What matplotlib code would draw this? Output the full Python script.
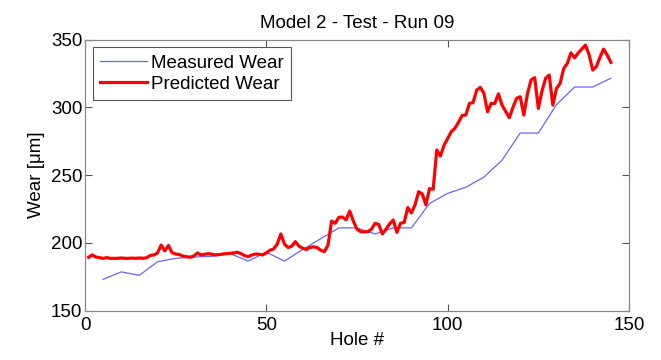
import numpy as np
import matplotlib
matplotlib.use('Agg')
import matplotlib.pyplot as plt

plt.rcParams['font.family'] = ['Liberation Sans', 'DejaVu Sans']

# 實測磨耗（每 5 孔量一次）
hole_meas = [5, 10, 15, 20, 25, 30, 35, 40, 45, 50, 55, 60, 65, 70, 75,
             80, 85, 90, 95, 100, 105, 110, 115, 120, 125, 130, 135, 140, 145]
wear_meas = [173, 178.5, 176, 186, 188.5, 189.5, 190, 192, 186.5, 193, 186.5, 195, 203, 211, 211,
             206.5, 211, 211, 229, 236.5, 241, 248.5, 261, 281, 281, 302, 315, 315, 321.5]

# 預測磨耗（每孔一筆）
hole_pred = list(range(1, 146))
wear_pred = [189.3, 191, 189.5, 189, 188.5, 189, 188.5, 188.5, 188.5, 188.8,
             188.5, 188.5, 188.7, 188.5, 188.8, 188.5, 189, 190.7, 191, 192.5,
             198.3, 194, 198, 192.7, 191.7, 191.3, 190.2, 189.7, 189.3, 190.2,
             192.5, 191, 191.5, 192, 191.5, 191, 191.3, 191.7, 192, 192.2,
             192.5, 193, 192, 190.5, 189.7, 191, 191.7, 191.5, 191, 192.5,
             194.5, 195.4, 199, 206.5, 199, 196.5, 197.5, 200.8, 197.5, 196,
             195, 196.5, 197, 196.5, 194.5, 193.4, 198.3, 216, 214.4, 218.8,
             219, 217, 223.4, 216, 210, 208.2, 208, 208.2, 210, 214.4,
             213.5, 206.5, 210, 214, 216.8, 207.7, 214.4, 215, 226, 222,
             228, 237.7, 236, 228, 240, 239.5, 268.5, 264, 272, 277,
             282, 284.5, 289, 294, 294.3, 302.9, 303.4, 312.7, 314.7, 310.3,
             296.7, 302.9, 302.9, 310, 301.6, 297, 292.3, 300, 306.6, 307.8,
             294.3, 310, 320.2, 321.9, 299.2, 312, 321.4, 323.8, 301.6, 313.9,
             317.6, 328.7, 332.4, 340.2, 336.5, 340.2, 343, 346, 338.8, 327.5,
             330, 337, 343, 338.5, 333.2]

fig = plt.figure(figsize=(6.61, 3.6), dpi=100)
ax = fig.add_axes([0.1286, 0.1375, 0.8230, 0.7525])

ax.plot(hole_meas, wear_meas, color='#6666ff', linewidth=0.9, label='Measured Wear')
ax.plot(hole_pred, wear_pred, color='#ff0000', linewidth=2.3, label='Predicted Wear')

ax.set_xlim(0, 150)
ax.set_ylim(150, 350)
ax.set_xticks([0, 50, 100, 150])
ax.set_yticks([150, 200, 250, 300, 350])
ax.tick_params(direction='in', top=True, right=True, labelsize=13.5,
               length=5, width=0.8, color='#555555', pad=2)
ax.tick_params(axis='x', pad=5)
for s in ax.spines.values():
    s.set_color('#888888')
    s.set_linewidth(0.9)

ax.set_title('Model 2 - Test - Run 09', fontsize=13.5, pad=8)
ax.set_xlabel('Hole #', fontsize=13.5, labelpad=-2)
ax.set_ylabel('Wear [\u03bcm]', fontsize=13.5, labelpad=4)

leg = ax.legend(loc='upper left', fontsize=13.5, fancybox=False, framealpha=1,
                edgecolor='#555555', borderpad=0.4, labelspacing=0.2,
                handlelength=2.5, handletextpad=0.2, borderaxespad=0.4)
leg.get_frame().set_linewidth(0.8)

fig.savefig('out.png', dpi=100)
